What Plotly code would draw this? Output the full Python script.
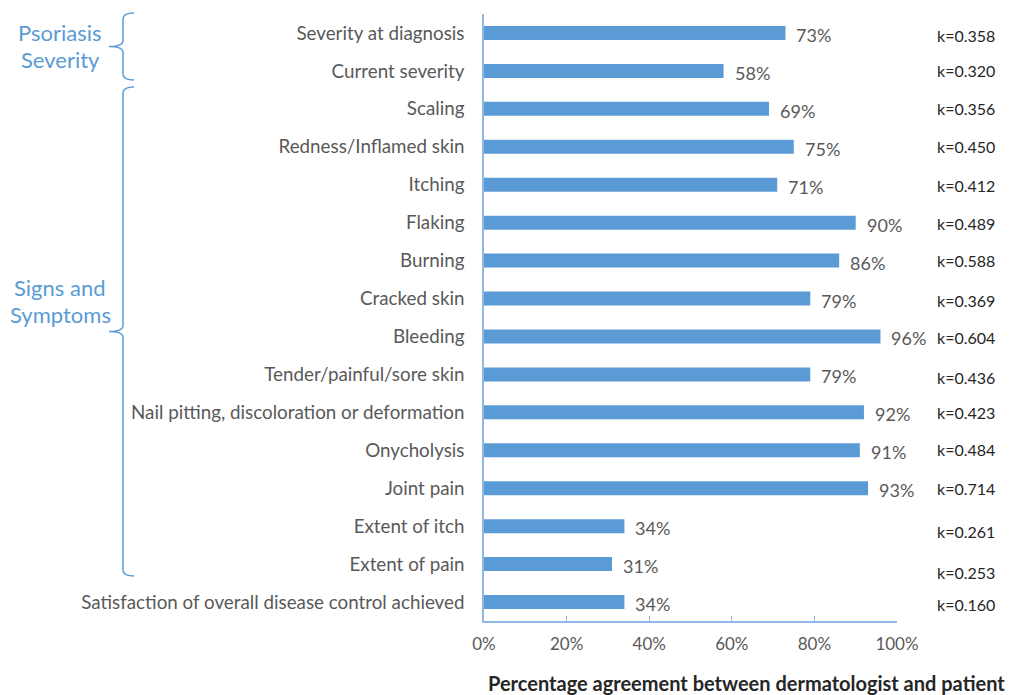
import plotly.graph_objects as go

categories = [
    "Severity at diagnosis", "Current severity", "Scaling", "Redness/Inflamed skin",
    "Itching", "Flaking", "Burning", "Cracked skin", "Bleeding",
    "Tender/painful/sore skin", "Nail pitting, discoloration or deformation",
    "Onycholysis", "Joint pain", "Extent of itch", "Extent of pain",
    "Satisfaction of overall disease control achieved",
]
agreement = [73, 58, 69, 75, 71, 90, 86, 79, 96, 79, 92, 91, 93, 34, 31, 34]
kappa = ["k=0.358", "k=0.320", "k=0.356", "k=0.450", "k=0.412", "k=0.489",
         "k=0.588", "k=0.369", "k=0.604", "k=0.436", "k=0.423", "k=0.484",
         "k=0.714", "k=0.261", "k=0.253", "k=0.160"]
x_ticks = [0, 20, 40, 60, 80, 100]
x_tick_labels = ["0%", "20%", "40%", "60%", "80%", "100%"]
groups = ["Psoriasis<br>Severity", "Signs and<br>Symptoms"]
x_title = "Percentage agreement between dermatologist and patient"

# page body has an 8px margin; screen coords below are of the final screenshot
OFF = 8
W, H = 1032 - OFF, 695 - OFF
PL, PR, PT, PB = 484, 897, 14, 621          # plot area in screen pixels
L, T = PL - OFF, PT - OFF
R, B = W - (PR - OFF), H - (PB - OFF)
PW, PH = PR - PL, PB - PT

def px(x):
    return (x - PL) / PW

def py(y):
    return (PB - y) / PH

FONT = "Lato, 'Open Sans', sans-serif"
BLUE = "#5B9BD5"
AXIS = "#8FB8E3"
GRAY = "#595959"

fig = go.Figure(go.Bar(
    x=agreement, y=categories, orientation="h",
    marker=dict(color=BLUE, line=dict(width=0)),
    width=0.37, hoverinfo="skip",
))

annotations = []
for c, v in zip(categories, agreement):
    annotations.append(dict(x=v, y=c, xref="x", yref="y", text=f"{v}%",
                            showarrow=False, xanchor="left", xshift=9, yshift=-2,
                            font=dict(family=FONT, size=18, color=GRAY)))
k_shift = [-3, 0, 0, 0, -1, -1, 0, -2, -1, -3, 0, 1, 0, -5, -8, -2]
for c, k, s in zip(categories, kappa, k_shift):
    annotations.append(dict(x=px(935), y=c, xref="paper", yref="y", text=k,
                            showarrow=False, xanchor="left", yshift=s,
                            font=dict(family=FONT, size=16, color="#262626")))

group_pos = [(60, 46), (60, 301)]
for g, (gx, gy) in zip(groups, group_pos):
    lines = g.split("<br>")
    for i, line in enumerate(lines):
        annotations.append(dict(x=px(gx), y=py(gy + (i - 0.5) * 27), xref="paper",
                                yref="paper", text=line, showarrow=False,
                                xanchor="center", yanchor="middle",
                                font=dict(family=FONT, size=22, color=BLUE)))
annotations.append(dict(x=px(486), y=py(683), xref="paper", yref="paper",
                        text=f"<b>{x_title}</b>", showarrow=False,
                        xanchor="left", yanchor="middle",
                        font=dict(family=FONT, size=20, color="#262626")))

def brace(top, bottom, xv=123, xtip=134, xmid=109):
    mid = (top + bottom) / 2
    pts = [
        f"M {px(xtip)},{py(top)}",
        f"Q {px(xv)},{py(top)} {px(xv)},{py(top + 6)}",
        f"L {px(xv)},{py(mid - 6)}",
        f"Q {px(xv)},{py(mid)} {px(xmid)},{py(mid)}",
        f"Q {px(xv)},{py(mid)} {px(xv)},{py(mid + 6)}",
        f"L {px(xv)},{py(bottom - 6)}",
        f"Q {px(xv)},{py(bottom)} {px(xtip)},{py(bottom)}",
    ]
    return dict(type="path", xref="paper", yref="paper", path=" ".join(pts),
                line=dict(color=BLUE, width=1.5))

shapes = [brace(13, 80), brace(87, 576)]

fig.update_layout(
    width=W, height=H,
    margin=dict(l=L, r=R, t=T, b=B, pad=0),
    plot_bgcolor="white", paper_bgcolor="white",
    showlegend=False,
    font=dict(family=FONT, size=17, color=GRAY),
    xaxis=dict(range=[0, 100], tickvals=x_ticks, ticktext=x_tick_labels,
               showgrid=False, zeroline=False, showline=True, linecolor=AXIS,
               linewidth=1.5, ticks="inside", ticklen=5, tickcolor=AXIS,
               tickfont=dict(family=FONT, size=17, color=GRAY),
               ticklabelstandoff=7, fixedrange=True),
    yaxis=dict(autorange="reversed", showgrid=False, zeroline=False,
               showline=True, linecolor=AXIS, linewidth=1.5, ticks="",
               tickfont=dict(family=FONT, size=18.8, color=GRAY),
               ticklabelstandoff=14, fixedrange=True),
    annotations=annotations,
    shapes=shapes,
)

fig.write_html("out.html")
